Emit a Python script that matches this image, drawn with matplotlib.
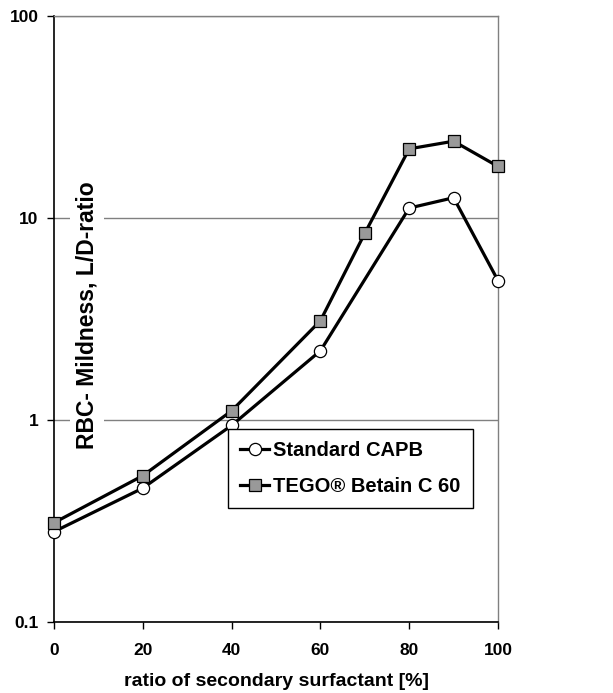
"""
plot.py

RBC mildness (L/D-ratio) vs. ratio of secondary surfactant, log scale.
"""

import numpy as np
import matplotlib
matplotlib.use('Agg')
import matplotlib.pyplot as plt

plt.rcParams['font.family'] = ['Liberation Sans', 'DejaVu Sans']
plt.rcParams['font.weight'] = 'bold'

# data
x_capb = [0, 20, 40, 60, 80, 90, 100]
y_capb = [0.28, 0.46, 0.94, 2.2, 11.2, 12.6, 4.9]

x_tego = [0, 20, 40, 60, 70, 80, 90, 100]
y_tego = [0.31, 0.53, 1.11, 3.1, 8.4, 22.0, 24.0, 18.0]

x_ticks = [0, 20, 40, 60, 80, 100]
y_ticks = [0.1, 1, 10, 100]
y_tick_labels = ['0.1', '1', '10', '100']

label_capb = 'Standard CAPB'
label_tego = 'TEGO® Betain C 60'
x_title = 'ratio of secondary surfactant [%]'
y_title = 'RBC- Mildness, L/D-ratio'

fig = plt.figure(figsize=(6.13, 6.93), dpi=100)
ax = fig.add_axes([54 / 613, 1 - 622 / 693, 444 / 613, 606 / 693])

ax.set_yscale('log')
ax.set_xlim(0, 100)
ax.set_ylim(0.1, 100)

# horizontal grid at the decades
ax.yaxis.grid(True, which='major', color='#808080', linewidth=1.0)
ax.set_axisbelow(True)

ax.plot(x_capb, y_capb, color='black', linewidth=2.3, marker='o', markersize=8.8,
        markerfacecolor='white', markeredgecolor='black', markeredgewidth=0.9,
        label=label_capb, zorder=3, clip_on=False)
ax.plot(x_tego, y_tego, color='black', linewidth=2.3, marker='s', markersize=8.0,
        markerfacecolor='#999999', markeredgecolor='black', markeredgewidth=0.9,
        label=label_tego, zorder=3, clip_on=False)

ax.set_xticks(x_ticks)
ax.set_xticklabels([str(t) for t in x_ticks], fontsize=12.5, fontweight='bold')
ax.set_yticks(y_ticks)
ax.set_yticklabels(y_tick_labels, fontsize=12.5, fontweight='bold')
ax.yaxis.set_minor_locator(matplotlib.ticker.NullLocator())
ax.tick_params(axis='x', direction='out', length=5, width=1, color='black', pad=10)
ax.tick_params(axis='y', direction='out', length=5, width=1, color='black', pad=6)

for side in ['top', 'right']:
    ax.spines[side].set_color('#808080')
    ax.spines[side].set_linewidth(1.0)
for side in ['left', 'bottom']:
    ax.spines[side].set_color('black')
    ax.spines[side].set_linewidth(1.2)

leg = ax.legend(loc='upper left', bbox_to_anchor=(0.392, 0.3185), borderaxespad=0,
                frameon=True, fancybox=False, shadow=False,
                borderpad=0.6, labelspacing=0.85, handlelength=1.45,
                handletextpad=0.2, prop={'size': 14.5, 'weight': 'bold'})
leg.get_frame().set_edgecolor('black')
leg.get_frame().set_linewidth(1.0)
leg.get_frame().set_alpha(1)
leg.set_zorder(5)

fig.text(276 / 613, 1 - 682 / 693, x_title, ha='center', va='center',
         fontsize=14, fontweight='bold')
fig.text(87 / 613, 1 - 315 / 693, y_title, ha='center', va='center',
         rotation=90, fontsize=16.5, fontweight='bold', zorder=4,
         bbox=dict(facecolor='white', edgecolor='none', pad=4))

fig.savefig('out.png', dpi=100)
